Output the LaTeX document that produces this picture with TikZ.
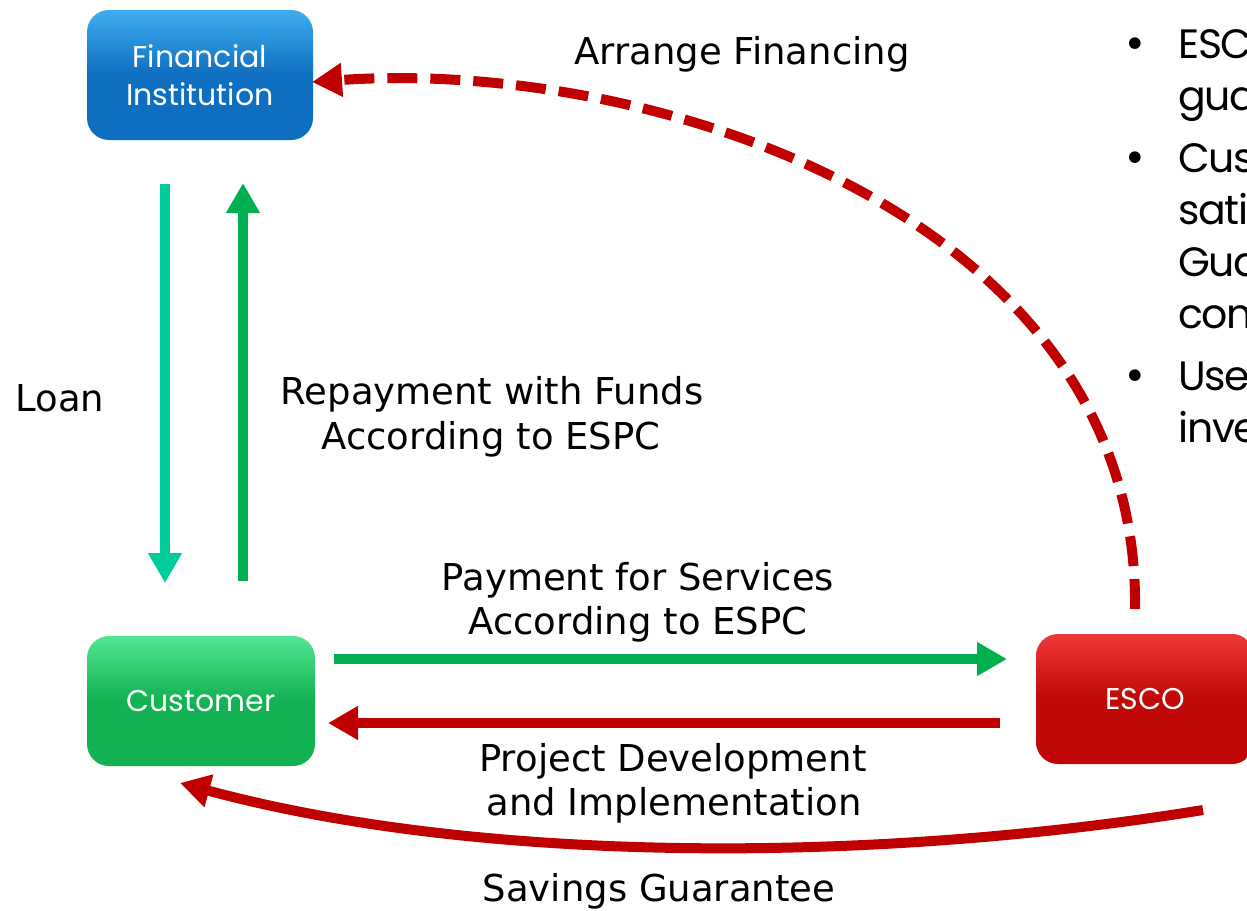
\documentclass[tikz,border=0pt]{standalone}
\usepackage{fontspec}
\setmainfont{DejaVu Sans}
\newfontfamily\boxfont{Poppins}
\newfontfamily\bulfont[LetterSpace=-3]{Poppins}
\usetikzlibrary{arrows.meta,calc}
\definecolor{fiblue}{HTML}{0E6EBF}
\definecolor{fibluetop}{HTML}{3FAEF0}
\definecolor{cugreen}{HTML}{12B152}
\definecolor{cugreentop}{HTML}{52E692}
\definecolor{esred}{HTML}{C00808}
\definecolor{esredtop}{HTML}{F03838}
\definecolor{loangreen}{HTML}{00CC99}
\definecolor{paygreen}{HTML}{00B050}
\definecolor{arrred}{HTML}{C00000}
\begin{document}
\begin{tikzpicture}[x=1pt,y=-1pt,
  box/.style={rounded corners=22pt, minimum width=226pt, minimum height=130pt,
    inner sep=0pt, text=white, align=center,
    font=\boxfont\fontsize{30}{38}\selectfont},
  lbl/.style={font=\fontsize{37}{44}\selectfont, anchor=base, inner sep=0pt},
  bultxt/.style={font=\bulfont\fontsize{41}{52}\selectfont, anchor=base west, inner sep=0pt},
  bulmark/.style={font=\fontsize{40}{52}\selectfont, anchor=base, inner sep=0pt},
  arr/.style={line width=10pt, -{Triangle[length=30pt,width=32pt]}}
]
\useasboundingbox (0,0) rectangle (1247,910);
\clip (0,0) rectangle (1247,910);

% boxes
\node[box, top color=fibluetop, bottom color=fiblue, middle color=fiblue] (fi) at (200,75) {Financial\\Institution};
\node[box, minimum width=228pt, top color=cugreentop, bottom color=cugreen, middle color=cugreen] (cu) at (201,701) {Customer};
\node[box, minimum width=218pt, top color=esredtop, bottom color=esred, middle color=esred] (es) at (1145,699) {ESCO};

% free ends
\coordinate (loanA) at (165,184);
\coordinate (loanB) at (165,583);
\coordinate (repA) at (243,581);
\coordinate (repB) at (243,183);
\coordinate (payA) at (334,659);
\coordinate (payB) at (1007,659);
\coordinate (prjA) at (1000,723);
\coordinate (prjB) at (328,723);
\coordinate (savA) at (1203,810);
\coordinate (savB) at (180,783);
\coordinate (arrA) at (1135,609);
\coordinate (arrB) at (312,82);

% connectors
\draw[arr, loangreen] (loanA) -- (loanB);
\draw[arr, paygreen] (repA) -- (repB);
\draw[arr, paygreen] (payA) -- (payB);
\draw[arr, arrred] (prjA) -- (prjB);
\draw[arr, arrred] (savA) .. controls (870,864) and (480,864) .. (savB);
\draw[arr, arrred, dash pattern=on 30pt off 13pt] (arrA) .. controls (1140,220) and (660,58) .. (arrB);

% labels
\node[lbl] (lfin) at (742,64) {Arrange Financing};
\node[lbl] (lloan) at (60,411) {Loan};
\node[lbl] (lrep1) at (492,404) {Repayment with Funds};
\node[lbl] (lrep2) at (491,449) {According to ESPC};
\node[lbl] (lpay1) at (638,590) {Payment for Services};
\node[lbl] (lpay2) at (638,634) {According to ESPC};
\node[lbl] (lprj1) at (673,771) {Project Development};
\node[lbl] (lprj2) at (674,815) {and Implementation};
\node[lbl] (lsav) at (659,901) {Savings Guarantee};

% bullets (cut off at the right edge, as in the reference)
\node[bulmark] (b1) at (1135,58) {•};
\node[bulmark] (b2) at (1135,172) {•};
\node[bulmark] (b3) at (1135,390) {•};
\node[bultxt] (t1) at (1178,58) {ESC};
\node[bultxt] (t2) at (1178,110) {gua};
\node[bultxt] (t3) at (1178,172) {Cus};
\node[bultxt] (t4) at (1178,224) {satis};
\node[bultxt] (t5) at (1178,276) {Gua};
\node[bultxt] (t6) at (1178,328) {con};
\node[bultxt] (t7) at (1178,390) {Use};
\node[bultxt] (t8) at (1178,442) {inve};
\end{tikzpicture}
\end{document}
